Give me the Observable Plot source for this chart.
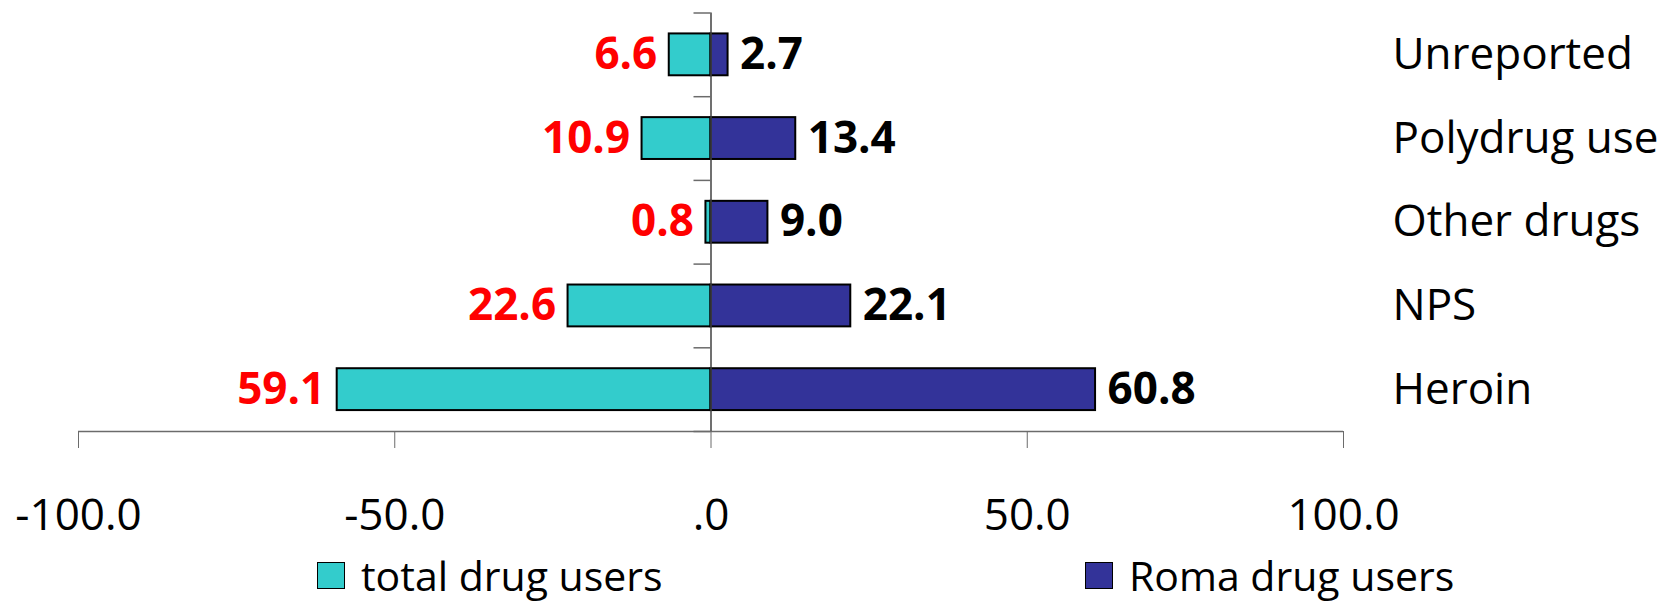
<!DOCTYPE html>
<html><head><meta charset="utf-8">
<script src="https://cdn.jsdelivr.net/npm/d3@7"></script>
<script src="https://cdn.jsdelivr.net/npm/@observablehq/plot@0.6"></script>
<style>
body{margin:0;background:#fff;font-family:"Open Sans",sans-serif;}
#chart{width:1663px;height:601px;position:relative;overflow:hidden;background:#fff}
.legend{position:absolute;top:560px;left:0;width:1663px;height:41px}
.item{position:absolute;top:0;display:flex;align-items:center;height:30px;font-size:41px;line-height:1;color:#000;white-space:nowrap}
.item span{line-height:1}
.sw{width:26px;height:25px;border:1.5px solid #000;margin-right:16px;flex:none}
</style></head><body><div id="chart"></div>
<script>
const categories = ["Unreported", "Polydrug use", "Other drugs", "NPS", "Heroin"];
const totalUsers = [6.6, 10.9, 0.8, 22.6, 59.1];
const romaUsers = [2.7, 13.4, 9.0, 22.1, 60.8];
const seriesNames = ["total drug users", "Roma drug users"];
const seriesColors = ["#33CCCC", "#333399"];
const xTicks = [-100, -50, 0, 50, 100];
const xTickLabels = ["-100.0", "-50.0", ".0", "50.0", "100.0"];

const rows = categories.flatMap((c, i) => [
  {cat: c, i, series: seriesNames[0], x1: -totalUsers[i], x2: 0, value: totalUsers[i]},
  {cat: c, i, series: seriesNames[1], x1: 0, x2: romaUsers[i], value: romaUsers[i]}
]);
const totalRows = rows.filter(d => d.series === seriesNames[0]);
const romaRows = rows.filter(d => d.series === seriesNames[1]);
const boundaries = d3.range(categories.length + 1);
const font = "'Open Sans', sans-serif";

const chart = Plot.plot({
  width: 1663,
  height: 560,
  marginLeft: 78,
  marginRight: 320,
  marginTop: 12.5,
  marginBottom: 129,
  style: {fontFamily: font, background: "white", overflow: "visible"},
  x: {domain: [-100, 100]},
  y: {domain: [0, categories.length], reverse: true, axis: null},
  color: {domain: seriesNames, range: seriesColors},
  marks: [
    Plot.rect(rows, {x1: "x1", x2: "x2", y1: d => d.i + 0.25, y2: d => d.i + 0.75, fill: "series", stroke: "#000", strokeWidth: 2}),
    Plot.ruleY([categories.length], {x1: -100, x2: 100, stroke: "#6b6b6b", strokeWidth: 1.5}),
    Plot.ruleX([0], {y1: 0, y2: categories.length, stroke: "#404040", strokeWidth: 1.5}),
    Plot.ruleY(boundaries, {y: d => d, x1: 0, x2: 0, insetLeft: -17, stroke: "#6b6b6b", strokeWidth: 1.5}),
    Plot.axisX({ticks: xTicks, tickFormat: d => xTickLabels[xTicks.indexOf(d)], tickSize: 17, tickPadding: 50, fontSize: 44, stroke: "#6b6b6b", fill: "#000", label: null}),
    Plot.text(categories, {x: 100, y: (d, i) => i + 0.5, text: d => d, dx: 49, textAnchor: "start", fontSize: 44, fill: "#000"}),
    Plot.text(totalRows, {x: "x1", y: d => d.i + 0.5, text: d => d.value.toFixed(1), dx: -12, textAnchor: "end", fontSize: 44, fontWeight: "bold", fill: "#FF0000"}),
    Plot.text(romaRows, {x: "x2", y: d => d.i + 0.5, text: d => d.value.toFixed(1), dx: 12, textAnchor: "start", fontSize: 44, fontWeight: "bold", fill: "#000"})
  ]
});

const root = document.getElementById("chart");
root.appendChild(chart);
const legend = document.createElement("div");
legend.className = "legend";
const legendLeft = [317, 1085];
seriesNames.forEach((name, k) => {
  const item = document.createElement("div");
  item.className = "item";
  item.style.left = legendLeft[k] + "px";
  const sw = document.createElement("span");
  sw.className = "sw";
  sw.style.background = seriesColors[k];
  const t = document.createElement("span");
  t.textContent = name;
  item.appendChild(sw);
  item.appendChild(t);
  legend.appendChild(item);
});
root.appendChild(legend);
</script>
</body></html>
